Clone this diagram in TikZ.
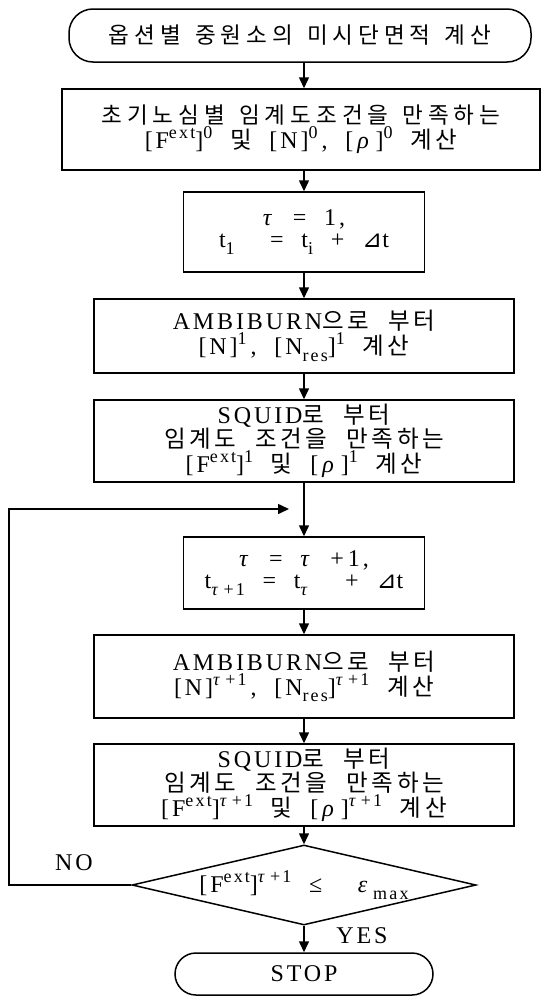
\documentclass[tikz,border=0pt]{standalone}
\usepackage{fontspec}
\setmainfont{Liberation Serif}[LetterSpace=12,WordSpace=2]
\newfontfamily\ktxt{Noto Sans CJK KR}[Scale=0.98,LetterSpace=15,WordSpace=2.2]
\newfontfamily\ktxtw{Noto Sans CJK KR}[Scale=0.94,LetterSpace=22,WordSpace=1.4]
\newfontfamily\djfont{DejaVu Sans}
\usetikzlibrary{arrows.meta,shapes.geometric}
\newcommand\mytau{\textit{τ}}
\newcommand\myrho{\textit{ρ}}
\newcommand\mytri{{\djfont ⊿}}
\newcommand\sps[1]{\raisebox{0.42em}{\fontsize{18}{18}\selectfont #1}}
\newcommand\sbs[1]{\raisebox{-0.28em}{\fontsize{18}{18}\selectfont #1}}
\begin{document}
\begin{tikzpicture}[x=1pt,y=-1pt,
  every node/.style={font=\fontsize{24}{22}\selectfont},
  proc/.style={draw, line width=1.5pt, inner sep=0pt, align=center},
  term/.style={proc, rounded corners=24pt},
  arr/.style={-{Triangle[length=11pt,width=10pt]}, line width=1.5pt},
  lbl/.style={inner sep=0pt}]
\useasboundingbox (0,0) rectangle (543,1001);

\node[term, minimum width=462pt, minimum height=53pt] (start) at (300,35.5)
  {\ktxtw 옵션별 중원소의 미시단면적 계산};
\node[proc, minimum width=478pt, minimum height=81pt] (b2) at (301,129.5)
  {{\ktxtw 초기노심별 임계도조건을 만족하는}\\{}[F\sps{ext}]\sps{0} {\ktxt 및} [N]\sps{0}\,, [\,\myrho\,]\sps{0} {\ktxt 계산}};
\node[proc, minimum width=241pt, minimum height=80pt] (b3) at (304,232)
  {\mytau\ =\ 1,\\{}t\sbs{1} \ = t\sbs{i} + \mytri t};
\node[proc, minimum width=420pt, minimum height=74pt] (b4) at (304,336)
  {AMBIBURN{\ktxt 으로 부터}\\{}[N]\sps{1}\,, [N\sbs{res}]\sps{1} {\ktxt 계산}};
\node[proc, minimum width=420pt, minimum height=82pt] (b5) at (304,441)
  {SQUID{\ktxt 로 부터}\\{}{\ktxt 임계도 조건을 만족하는}\\{}[F\sps{ext}]\sps{1} {\ktxt 및} [\,\myrho\,]\sps{1} {\ktxt 계산}};
\node[proc, minimum width=241pt, minimum height=72pt] (b6) at (304,573)
  {\mytau\ =\ \mytau\ +\,1,\\{}t\sbs{\mytau\,+1} = t\sbs{\mytau}\ \ + \mytri t};
\node[proc, minimum width=420pt, minimum height=83pt] (b7) at (304,676.5)
  {AMBIBURN{\ktxt 으로 부터}\\{}[N]\sps{\mytau\,+1}\,, [N\sbs{res}]\sps{\mytau\,+1} {\ktxt 계산}};
\node[proc, minimum width=420pt, minimum height=82pt] (b8) at (304,785)
  {SQUID{\ktxt 로 부터}\\{}{\ktxt 임계도 조건을 만족하는}\\{}[F\sps{ext}]\sps{\mytau\,+1} {\ktxt 및} [\,\myrho\,]\sps{\mytau\,+1} {\ktxt 계산}};
\node[proc, diamond, aspect=4.3, minimum width=344pt, minimum height=80pt] (dec) at (304,885)
  {[F\sps{ext}]\sps{\mytau\,+1}\ ≤\ \ \textit{ε}\sbs{\,max}};
\node[term, rounded corners=21pt, minimum width=258pt, minimum height=42pt] (stop) at (304,974) {STOP};

\node[lbl] (no) at (74,863) {NO};
\node[lbl] (yes) at (362,936) {YES};

\coordinate (lx) at (9,509);
\coordinate (loopend) at (289,509);

\draw[arr] (start.south -| b3.north) -- (b2.north -| b3.north);
\draw[arr] (b2.south -| b3.north) -- (b3.north);
\draw[arr] (b3) -- (b4);
\draw[arr] (b4) -- (b5);
\draw[arr] (b5) -- (b6);
\draw[arr] (b6) -- (b7);
\draw[arr] (b7) -- (b8);
\draw[arr] (b8) -- (dec);
\draw[arr] (dec) -- (stop);
\draw[arr] (dec.west) -- (dec.west -| lx) |- (loopend);
\end{tikzpicture}
\end{document}
